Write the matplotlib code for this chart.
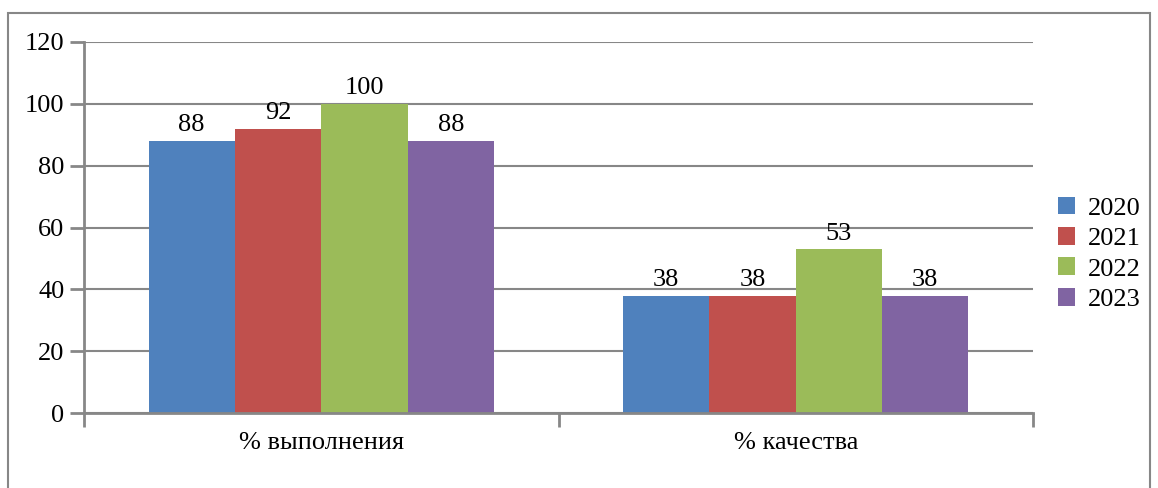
import numpy as np
import matplotlib.pyplot as plt
from matplotlib.patches import Rectangle

# Data
categories = ["% выполнения", "% качества"]
years = ["2020", "2021", "2022", "2023"]
values = {
    "2020": [88, 38],
    "2021": [92, 38],
    "2022": [100, 53],
    "2023": [88, 38],
}
colors = ["#4F81BD", "#C0504D", "#9BBB59", "#8064A2"]

plt.rcParams["font.family"] = "serif"
plt.rcParams["font.serif"] = ["Liberation Serif", "Times New Roman", "DejaVu Serif"]
grid_col = "#878787"

fig = plt.figure(figsize=(11.58, 4.88), dpi=100)
ax = fig.add_axes([84 / 1158, 75 / 488, 949 / 1158, 371 / 488])

# outer chart border
fig.patches.append(Rectangle((8 / 1158, -0.1), 1142 / 1158, 1.1 - 13 / 488,
                             transform=fig.transFigure, fill=False,
                             edgecolor=grid_col, linewidth=1.5))

x = np.arange(len(categories)) + 0.5
w = 0.182
for i, yr in enumerate(years):
    pos = x + (i - 1.5) * w
    bars = ax.bar(pos, values[yr], width=w, color=colors[i], label=yr, zorder=3)
    for b, v in zip(bars, values[yr]):
        ax.text(b.get_x() + w / 2, v + 1.5, str(v), ha="center", va="bottom",
                fontsize=19, zorder=4)

ax.set_xlim(0, 2)
ax.set_ylim(0, 120)
ax.set_yticks(range(0, 121, 20))
ax.set_xticks([0, 1, 2])
ax.set_xticklabels([])
ax.set_xticks(x, minor=True)
ax.set_xticklabels(categories, minor=True, fontsize=19)
ax.tick_params(axis="x", which="minor", length=0, pad=14)
ax.tick_params(axis="x", which="major", length=10, width=2, color=grid_col)
ax.tick_params(axis="y", length=10, width=2, color=grid_col, labelsize=19, pad=4)

ax.grid(axis="y", color=grid_col, linewidth=1.5, zorder=0)
for s in ["top", "right"]:
    ax.spines[s].set_visible(False)
for s in ["left", "bottom"]:
    ax.spines[s].set_color(grid_col)
    ax.spines[s].set_linewidth(2)
    ax.spines[s].set_zorder(3.5)

fig.legend(loc="center left", bbox_to_anchor=(1047 / 1158, 0.48), frameon=False,
           fontsize=19, handlelength=0.65, handleheight=0.65, handletextpad=0.5,
           labelspacing=0.28, borderaxespad=0)

fig.savefig("out.png", dpi=100)
